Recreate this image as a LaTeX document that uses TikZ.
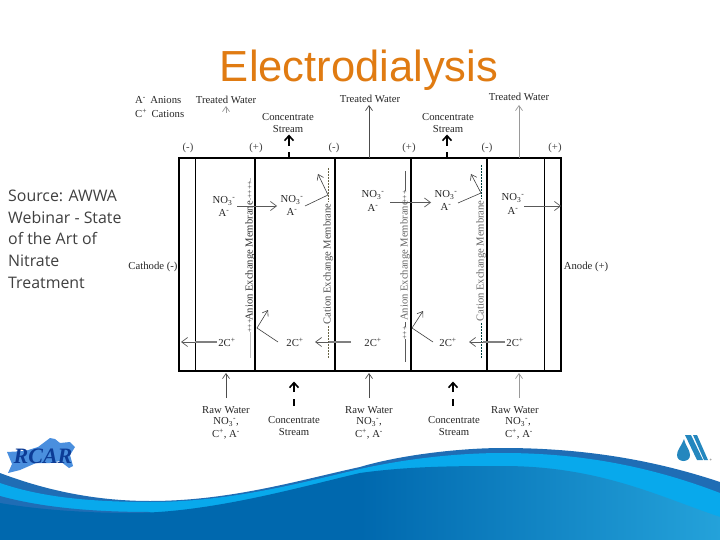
\documentclass[tikz,border=0pt]{standalone}
\usepackage{fontspec}
\setmainfont{Liberation Serif}
\newfontfamily\titlefont{Liberation Sans}
\newfontfamily\sidefont{Open Sans}
\usetikzlibrary{arrows.meta}
\newcommand{\pxfont}[1]{\fontsize{#1bp}{#1bp}\selectfont}
\newcommand{\nothree}{NO\textsubscript{3}\textsuperscript{-}}
\definecolor{titleorange}{HTML}{E07B12}
\definecolor{waveA}{HTML}{1F6DB5}
\definecolor{waveB}{HTML}{08A9EC}
\definecolor{waveC}{HTML}{0068AE}
\definecolor{waveD}{HTML}{24A2DA}
\definecolor{rcarlight}{HTML}{4A8FDE}
\definecolor{rcardark}{HTML}{0C3C96}
\definecolor{awwablue}{HTML}{2487BE}
\pgfdeclarehorizontalshading{wavefill}{100bp}{color(0bp)=(waveC); color(50bp)=(waveC); color(75bp)=(waveD); color(100bp)=(waveD)}
\tikzset{
  lbl/.style={font=\pxfont{10.7}, inner sep=0pt, text=black!85, align=center},
  sign/.style={font=\pxfont{10.7}, inner sep=0pt, text=black!75},
  ion/.style={font=\pxfont{10.7}, inner sep=0pt, text=black!85},
  sidetext/.style={font=\sidefont\pxfont{15.9}, text=black!75, inner sep=0pt, anchor=west},
  memtext/.style={font=\pxfont{10.6}, inner sep=1pt, rotate=90, fill=white},
  plus/.style={font=\pxfont{7.5}, inner sep=0pt, rotate=90, text=black!80},
  heavy/.style={line width=2pt, black},
  thinwall/.style={line width=1pt, black},
  flow/.style={line width=.7pt, -{Straight Barb[length=5bp,width=7bp]}, black!70},
  flowpale/.style={line width=.7pt, -{Straight Barb[length=5bp,width=7bp]}, black!40},
  ionflow/.style={line width=1.6pt, black!50},
  ionhead/.style={line width=.7pt, -{Straight Barb[length=6bp,width=9bp]}, black!65},
  reflect/.style={line width=.6pt, black!75, -{Straight Barb[length=5bp,width=7bp]}},
  conc/.style={line width=1.6pt, black},
  conchead/.style={line width=1.6pt, black, -{Straight Barb[length=5bp,width=9bp]}},
}
\begin{document}
\begin{tikzpicture}[x=1bp,y=-1bp]
\useasboundingbox (0,0) rectangle (720,540);
\fill[white] (0,0) rectangle (720,540);
% ---- waves
\fill[waveA] (0,473) .. controls (50,492) and (100,501) .. (150,501) .. controls (230,501) and (300,480) .. (360,467) .. controls (400,455) and (460,448) .. (503,448) .. controls (590,448) and (660,462) .. (720,482) -- (720,540) -- (0,540) -- cycle;
\fill[waveB] (0,483) .. controls (40,497) and (90,502) .. (150,502) .. controls (230,502) and (300,483) .. (360,469) .. controls (410,458) and (460,453) .. (503,453) .. controls (590,453) and (660,470) .. (720,493) -- (720,540) -- (0,540) -- cycle;
\fill[waveA] (0,496) .. controls (40,507) and (90,512) .. (150,512) -- (150,540) -- (0,540) -- cycle;
\shade[shading=wavefill] (0,503) .. controls (40,510) and (90,513) .. (130,513) .. controls (210,513) and (300,487) .. (360,473) .. controls (410,466) and (460,466) .. (503,466) .. controls (600,466) and (660,497) .. (720,517) -- (720,540) -- (0,540) -- cycle;
% ---- RCAR logo
\fill[rcarlight] (7,452) -- (25,451) -- (38,447) -- (50,438) -- (55,439) -- (60,443) -- (70,442) -- (75,447) -- (70,455) -- (73,466) -- (69,468) -- (60,461) -- (50,463) -- (36,463) -- (20,470) -- (8,473) -- (12,464) -- cycle;
\node[font=\pxfont{22}\bfseries\itshape, text=rcardark, inner sep=0pt] (rcar) at (43,456) {RCAR};
% ---- AWWA logo
\fill[awwablue] (684,439) .. controls (681,447) and (677,450) .. (677,455) .. controls (677,459) and (680,461) .. (683.5,461) .. controls (687,461) and (690,459) .. (690,455) .. controls (690,450) and (686,447) .. (684,439) -- cycle;
\fill[awwablue] (685,435) -- (691,435) -- (703,460) -- (697,460) -- cycle;
\fill[awwablue] (693,435) -- (697,435) -- (708,460) -- (704,460) -- cycle;
\fill[black!35] (710.5,459.5) circle (1);
% ---- title and side text
\node[font=\titlefont\pxfont{43.5}, text=titleorange, inner sep=0pt] (title) at (359,70) {Electrodialysis};
\node[sidetext] (s1) at (8,195.5) {Source: AWWA};
\node[sidetext] (s2) at (8,217.5) {Webinar - State};
\node[sidetext] (s3) at (8,238.5) {of the Art of};
\node[sidetext] (s4) at (8,260.5) {Nitrate};
\node[sidetext] (s5) at (8,282.5) {Treatment};
% ---- membrane guide lines
\draw[black!25, line width=.5pt] (250,178) -- (250,358);
\draw[black!60!yellow!80!black, line width=.7pt, dash pattern=on 2pt off 1pt] (328,168) -- (328,358);
\draw[black!65, line width=.7pt] (405,171) -- (405,362);
\draw[black!50!teal, line width=.7pt, dash pattern=on 2pt off 1pt] (481,165) -- (481,358);
\node[memtext, text=black!80] (m1) at (250,261) {Anion Exchange Membrane};
\node[memtext, text=black!70] (m2) at (328,264) {Cation Exchange Membrane};
\node[memtext, text=black!60] (m3) at (405,261) {Anion Exchange Membrane};
\node[memtext, text=black!60] (m4) at (481,261) {Cation Exchange Membrane};
\node[plus, fill=white] (p1) at (250,190) {++++};
\node[plus, fill=white] (p2) at (250,326) {+++};
\node[plus, fill=white] (p3) at (405,197) {+++};
\node[plus, fill=white] (p4) at (405,333) {+++};
% ---- cell
\coordinate (tl) at (179,158);
\coordinate (br) at (561,371);
\draw[heavy] (tl) rectangle (br);
\draw[thinwall] (195.5,158) -- (195.5,371);
\draw[thinwall] (544,158) -- (544,371);
\draw[heavy] (255,158) -- (255,371);
\draw[heavy] (335,158) -- (335,371);
\draw[heavy] (411,158) -- (411,371);
\draw[heavy] (487,158) -- (487,371);
% ---- top labels
\node[lbl, anchor=west] (an) at (135,100) {A\textsuperscript{-} \,Anions};
\node[lbl, anchor=west] (ca) at (135,113) {C\textsuperscript{+} \,Cations};
\node[lbl] (tw1) at (226,100) {Treated Water};
\node[lbl] (tw2) at (370,99) {Treated Water};
\node[lbl] (tw3) at (519,97) {Treated Water};
\node[lbl] (c1a) at (288,117.5) {Concentrate};
\node[lbl] (c1b) at (288,129.5) {Stream};
\node[lbl] (c2a) at (448,117.5) {Concentrate};
\node[lbl] (c2b) at (448,129.5) {Stream};
\node[sign] (g1) at (188,148) {(-)};
\node[sign] (g2) at (256,148) {(+)};
\node[sign] (g3) at (334,148) {(-)};
\node[sign] (g4) at (409,148) {(+)};
\node[sign] (g5) at (487,148) {(-)};
\node[sign] (g6) at (555,148) {(+)};
\node[lbl] (cat) at (153,267) {Cathode (-)};
\node[lbl] (ano) at (586,267) {Anode (+)};
% ---- ions
\node[ion] (n1) at (224,201) {\nothree}; \node[ion] (a1) at (224,213) {A\textsuperscript{-}};
\node[ion] (n2) at (292,200) {\nothree}; \node[ion] (a2) at (292,212) {A\textsuperscript{-}};
\node[ion] (n3) at (373,195) {\nothree}; \node[ion] (a3) at (373,208) {A\textsuperscript{-}};
\node[ion] (n4) at (446,195) {\nothree}; \node[ion] (a4) at (446,207) {A\textsuperscript{-}};
\node[ion] (n5) at (513,198) {\nothree}; \node[ion] (a5) at (513,211) {A\textsuperscript{-}};
\node[ion] (k1) at (227,342) {2C\textsuperscript{+}};
\node[ion] (k2) at (295,342) {2C\textsuperscript{+}};
\node[ion] (k3) at (373,342) {2C\textsuperscript{+}};
\node[ion] (k4) at (448,342) {2C\textsuperscript{+}};
\node[ion] (k5) at (515,342) {2C\textsuperscript{+}};
% ---- bottom labels
\node[lbl] (r1a) at (226,410.5) {Raw Water};
\node[lbl] (r1b) at (226,422) {\nothree,};
\node[lbl] (r1c) at (226,434) {C\textsuperscript{+}, A\textsuperscript{-}};
\node[lbl] (r2a) at (369,410.5) {Raw Water};
\node[lbl] (r2b) at (369,422) {\nothree,};
\node[lbl] (r2c) at (369,434) {C\textsuperscript{+}, A\textsuperscript{-}};
\node[lbl] (r3a) at (515,410.5) {Raw Water};
\node[lbl] (r3b) at (518,422) {\nothree,};
\node[lbl] (r3c) at (519,434) {C\textsuperscript{+}, A\textsuperscript{-}};
\node[lbl] (d1a) at (294,420.5) {Concentrate};
\node[lbl] (d1b) at (294,432.5) {Stream};
\node[lbl] (d2a) at (454,420.5) {Concentrate};
\node[lbl] (d2b) at (454,432.5) {Stream};
% ---- treated water arrows
\coordinate (t1s) at (226,113); \coordinate (t1e) at (226,106);
\coordinate (t2s) at (369,158); \coordinate (t2e) at (369,105);
\coordinate (t3s) at (519,158); \coordinate (t3e) at (519,105);
\draw[flowpale] (t1s) -- (t1e);
\draw[flow] (t2s) -- (t2e);
\draw[flowpale] (t3s) -- (t3e);
% ---- concentrate arrows
\coordinate (u1a) at (289,158); \coordinate (u1b) at (289,152);
\coordinate (u1c) at (289,146); \coordinate (u1d) at (289,134.5);
\coordinate (u2a) at (447,158); \coordinate (u2b) at (447,152);
\coordinate (u2c) at (447,146); \coordinate (u2d) at (447,134.5);
\draw[conc] (u1a) -- (u1b); \draw[conchead] (u1c) -- (u1d);
\draw[conc] (u2a) -- (u2b); \draw[conchead] (u2c) -- (u2d);
\coordinate (v1a) at (294,406); \coordinate (v1b) at (294,399);
\coordinate (v1c) at (294,392); \coordinate (v1d) at (294,381.5);
\coordinate (v2a) at (453,406); \coordinate (v2b) at (453,399);
\coordinate (v2c) at (453,392); \coordinate (v2d) at (453,381.5);
\draw[conc] (v1a) -- (v1b); \draw[conchead] (v1c) -- (v1d);
\draw[conc] (v2a) -- (v2b); \draw[conchead] (v2c) -- (v2d);
% ---- raw water arrows
\coordinate (w1s) at (226,398); \coordinate (w1e) at (226,373);
\coordinate (w2s) at (369,398); \coordinate (w2e) at (369,373);
\coordinate (w3s) at (519,398); \coordinate (w3e) at (519,373);
\draw[flow] (w1s) -- (w1e);
\draw[flow] (w2s) -- (w2e);
\draw[flowpale] (w3s) -- (w3e);
% ---- anion arrows
\coordinate (x1s) at (237,206); \coordinate (x1e) at (277,206);
\coordinate (x2s) at (390,202.5); \coordinate (x2e) at (431,202.5);
\coordinate (x3s) at (524,206); \coordinate (x3e) at (561,206);
\draw[ionhead] (x1s) -- (x1e);
\draw[ionhead] (x2s) -- (x2e);
\draw[ionhead] (x3s) -- (x3e);
% ---- cation arrows
\coordinate (y1s) at (217,342); \coordinate (y1m) at (195,342); \coordinate (y1e) at (181,342);
\coordinate (y2s) at (351,342); \coordinate (y2m) at (329,342); \coordinate (y2e) at (315,342);
\coordinate (y3s) at (505,342); \coordinate (y3m) at (483,342); \coordinate (y3e) at (469,342);
\draw[ionflow] (y1s) -- (y1m); \draw[ionhead] (y1m) -- (y1e);
\draw[ionflow] (y2s) -- (y2m); \draw[ionhead] (y2m) -- (y2e);
\draw[ionflow] (y3s) -- (y3m); \draw[ionhead] (y3m) -- (y3e);
% ---- rejected ions
\coordinate (ra1) at (305,206); \coordinate (rb1) at (328,195); \coordinate (rc1) at (318,174);
\coordinate (ra2) at (458,203); \coordinate (rb2) at (481,193); \coordinate (rc2) at (471,174);
\coordinate (ra3) at (278,342); \coordinate (rb3) at (257,328); \coordinate (rc3) at (268,310);
\coordinate (ra4) at (433,342); \coordinate (rb4) at (412,328); \coordinate (rc4) at (423,311);
\draw[reflect] (ra1) -- (rb1) -- (rc1);
\draw[reflect] (ra2) -- (rb2) -- (rc2);
\draw[reflect] (ra3) -- (rb3) -- (rc3);
\draw[reflect] (ra4) -- (rb4) -- (rc4);
\end{tikzpicture}
\end{document}
